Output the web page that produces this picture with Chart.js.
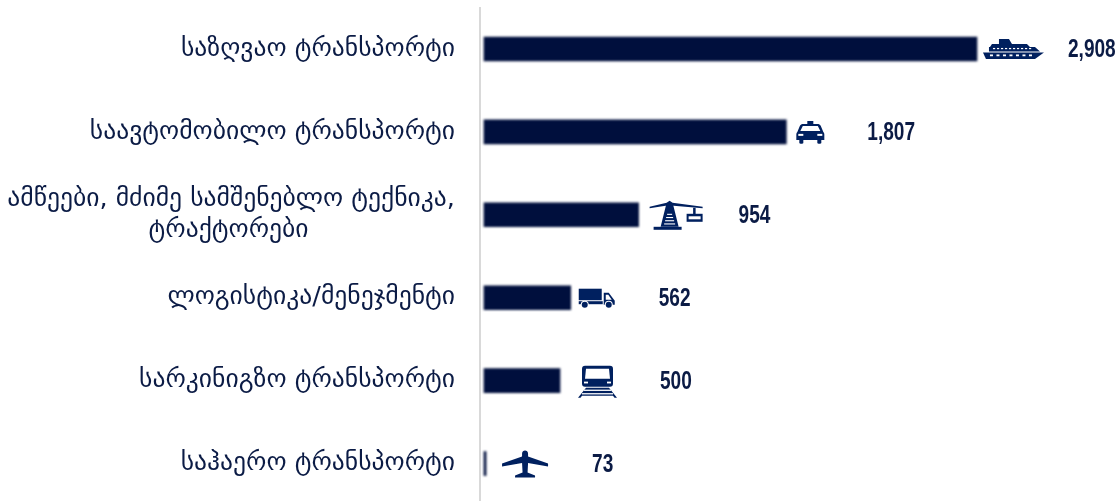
<!DOCTYPE html>
<html><head><meta charset="utf-8">
<style>html,body{margin:0;padding:0;background:#fff;overflow:hidden;width:1120px;height:501px}
#w{position:relative;width:1120px;height:510px}</style>
<script src="https://cdn.jsdelivr.net/npm/chart.js@4"></script></head>
<body><div id="w"><canvas id="c" width="1120" height="510"></canvas></div>
<script>
const categories = [
  "საზღვაო ტრანსპორტი",
  "საავტომობილო ტრანსპორტი",
  ["ამწეები, მძიმე სამშენებლო ტექნიკა,", "ტრაქტორები\u00a0\u00a0\u00a0\u00a0\u00a0\u00a0\u00a0\u00a0\u00a0\u00a0\u00a0\u00a0\u00a0\u00a0\u00a0\u00a0\u00a0\u00a0"],
  "ლოგისტიკა/მენეჯმენტი",
  "სარკინიგზო ტრანსპორტი",
  "საჰაერო ტრანსპორტი"
];
const values = [2908, 1807, 954, 562, 500, 73];
const iconNames = ["ship", "taxi", "crane", "truck", "train", "plane"];

const iconGap = [6, 10, 11, 8, 18, 16];
const labelGap = [91, 81, 100, 88, 100, 106];
const INK = "#00205f", BAR = "#000f3d", TXT = "#0b1b45";

const icons = {
  ship(g){ g.fillStyle=INK;
    g.fill(new Path2D("M0 3.5H61L52 10H3Z"));
    g.fill(new Path2D("M6 2.5V-2H7L9 -5H16V-10H26L29 -5H44L47 -2H52L57 2.5Z"));
    g.fillStyle="#fff"; for(let i=0;i<7;i++) g.fillRect(7+i*6.5,5.5,3,1.8);
    for(let i=0;i<10;i++) g.fillRect(10+i*4,-1,2.2,1.2);
  },
  taxi(g){ g.fillStyle=INK;
    g.fill(new Path2D("M11 -11H17V-8H22C23 -8 24 -7 24.5 -6L27 0C28 1 28 2 28 3V8H25V11C25 12 21 12 21 11V8H7V11C7 12 3 12 3 11V8H0V3C0 2 0 1 1 0L3.5 -6C4 -7 5 -8 6 -8H11Z"));
    g.fillStyle="#fff"; g.fill(new Path2D("M6.5 -6H21.5L24 -1H4Z"));
    g.fillRect(2,2,5,2); g.fillRect(21,2,5,2);
  },
  crane(g){ g.fillStyle=INK;
    g.fill(new Path2D("M0 -8L17 -12L20 -14L23 -12L53 -8V-6.5L24 -9H16L0 -6.5Z"));
    g.fill(new Path2D("M16.5 -10H23.5L29 12H11Z"));
    g.fillRect(4,12,28,3);
    g.fillRect(43.5,-7,2.5,7);
    g.fillRect(37,-1,16,8);
    g.fillStyle="#fff"; g.fillRect(39,1.5,12,3);
    for(let i=0;i<4;i++) g.fillRect(17.5-i,-1+i*3.2,5+2*i,1.1);
  },
  truck(g){ g.fillStyle=INK;
    g.fillRect(0,-9,23,11.5); g.fillRect(0,3.5,24,3);
    g.fill(new Path2D("M25 -5H30L36 3V7H25Z"));
    g.fillStyle="#fff"; g.fill(new Path2D("M27 -3H29.5L33 2H27Z"));
    for(const x of [6,30]){ g.fillStyle="#fff"; g.beginPath(); g.arc(x,7,4,0,7); g.fill();
      g.fillStyle=INK; g.beginPath(); g.arc(x,7,3,0,7); g.fill(); }
  },
  train(g){ g.fillStyle=INK;
    g.fill(new Path2D("M7 -15H32C34 -15 35 -14 35 -12V3C35 5 34 6 32 6H7C5 6 4 5 4 3V-12C4 -14 5 -15 7 -15Z"));
    g.fill(new Path2D("M0 17L8 7H31L39 17H36.5L35 15H4L2.5 17Z"));
    g.fillStyle="#fff"; g.fill(new Path2D("M8 -12H31L32 -2H7Z"));
    g.fillRect(6,1,4,1.8); g.fillRect(29,1,4,1.8);
    g.fillRect(6,9,27,1.3); g.fillRect(4,12.5,31,1.3);
  },
  plane(g){ g.fillStyle=INK;
    g.fill(new Path2D("M20 -10C20 -14 26 -14 26 -10V-7L46 0V3L26 -0.5L25.5 9L33 12V14H13V12L20.5 9L20 -0.5L0 3V0L20 -7Z"));
  }
};

const overlay = {
  id: "overlay",
  beforeDatasetDraw(chart){ chart.ctx.save(); chart.ctx.filter = "blur(1.1px)"; },
  afterDatasetDraw(chart){ chart.ctx.restore(); },
  afterDraw(chart){
    const g = chart.ctx, bars = chart.getDatasetMeta(0).data;
    bars.forEach((b,i)=>{
      g.save(); g.translate(b.x+iconGap[i], b.y); icons[iconNames[i]](g); g.restore();
      g.save();
      g.translate(b.x+labelGap[i], b.y+1);
      g.scale(0.72,1);
      g.font = "bold 26.5px 'Liberation Sans Narrow','Liberation Sans'";
      g.fillStyle = TXT; g.textAlign="left"; g.textBaseline="middle";
      g.fillText(values[i].toLocaleString("en-US"),0,0);
      g.restore();
    });
  }
};

new Chart(document.getElementById("c"), {
  type: "bar",
  data: { labels: categories, datasets: [{ data: values, base: 61, backgroundColor: BAR, barThickness: 24, borderWidth: 0 }] },
  options: {
    indexAxis: "y", responsive: false, animation: false,
    layout: { padding: { top: 7.5, right: 0, bottom: 5, left: 0 } },
    plugins: { legend: { display: false }, tooltip: { enabled: false } },
    scales: {
      x: { display: false, min: 38, max: 3734 },
      y: {
        afterFit(s){ s.width = 480; s.paddingTop = 0; s.paddingBottom = 0; },
        grid: { drawOnChartArea: false, drawTicks: false, color: "#d9d9d9" },
        border: { display: true, color: "#d9d9d9", width: 2 },
        ticks: { color: TXT, padding: 25, font: { family: "'DejaVu Sans'", size: 25.6 }, autoSkip: false, lineHeight: 1.15 }
      }
    }
  },
  plugins: [overlay]
});
</script></body></html>
